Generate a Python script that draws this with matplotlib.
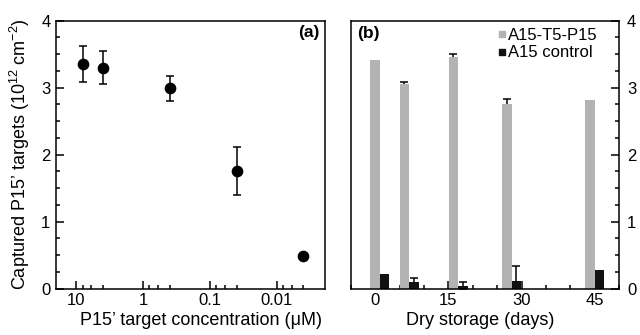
import matplotlib

matplotlib.use("Agg", force=True)
import matplotlib.pyplot as plt
from matplotlib.lines import Line2D
from matplotlib.ticker import FixedLocator, NullFormatter, MultipleLocator

plt.rcParams["font.family"] = ["Liberation Sans", "DejaVu Sans"]
plt.rcParams["mathtext.fontset"] = "custom"
plt.rcParams["mathtext.rm"] = "Liberation Sans"
plt.rcParams["mathtext.it"] = "Liberation Sans:italic"

# panel (a): captured targets vs target concentration
conc_um = [8, 4, 0.4, 0.04, 0.004]
captured = [3.35, 3.30, 2.99, 1.75, 0.48]
captured_err = [0.27, 0.24, 0.19, 0.36, 0.03]
conc_ticks = [10, 1, 0.1, 0.01]
conc_labels = ["10", "1", "0.1", "0.01"]

# panel (b): dry storage
storage_days = [0, 6, 16, 27, 44]
probe = [3.42, 3.05, 3.46, 2.76, 2.81]
probe_err = [0.0, 0.03, 0.04, 0.07, 0.0]
control = [0.21, 0.09, 0.04, 0.11, 0.28]
control_err = [0.0, 0.06, 0.06, 0.23, 0.0]
series_names = ["A15-T5-P15", "A15 control"]

GRAY = "#b3b3b3"
BLACK = "#111111"
TICK_FS = 12
LABEL_FS = 13
LW = 1.1


def upper_errorbars(ax, xs, ys, errs):
    # only bars that carry an error; lower half sits hidden behind the bar
    keep = [i for i, e in enumerate(errs) if e > 0]
    ax.errorbar([xs[i] for i in keep], [ys[i] for i in keep],
                yerr=[errs[i] for i in keep], fmt="none", ecolor="black",
                elinewidth=LW, capsize=3.2, capthick=LW, zorder=1)


fig = plt.figure(figsize=(6.4, 3.35), dpi=100)
ax1 = fig.add_axes([56 / 640, 0.1388, 269 / 640, 0.7994])
ax2 = fig.add_axes([350.7 / 640, 0.1388, 268.6 / 640, 0.7994])

for ax in (ax1, ax2):
    for sp in ax.spines.values():
        sp.set_linewidth(LW)
    ax.set_ylim(0, 4)
    ax.yaxis.set_major_locator(MultipleLocator(1))
    ax.yaxis.set_minor_locator(MultipleLocator(0.25))
    ax.tick_params(which="both", direction="in", width=LW, labelsize=TICK_FS)
    ax.tick_params(which="major", length=5.5)
    ax.tick_params(which="minor", length=2.8)
    ax.tick_params(axis="x", pad=3.3)

# (a)
ax1.errorbar(conc_um, captured, yerr=captured_err, fmt="o", color="black",
             markersize=7.4, capsize=3.2, elinewidth=LW, capthick=LW)
ax1.set_xscale("log")
ax1.set_xlim(20, 0.0019)
ax1.xaxis.set_major_locator(FixedLocator(conc_ticks))
ax1.set_xticklabels(conc_labels)
minor = [m * d for d in (1, 0.1, 0.01, 0.001) for m in (8, 6, 4)]
ax1.xaxis.set_minor_locator(FixedLocator(minor))
ax1.xaxis.set_minor_formatter(NullFormatter())
ax1.tick_params(top=False, right=False, which="both")
ax1.tick_params(axis="y", pad=4)
ax1.set_xlabel("P15\u2019 target concentration (\u03bcM)", fontsize=LABEL_FS)
ax1.xaxis.set_label_coords(0.54, -0.088)
ax1.set_ylabel("Captured P15\u2019 targets (10$^{12}$ cm$^{-2}$)", fontsize=LABEL_FS)
ax1.yaxis.set_label_coords(-0.091, 0.5)
ax1.text(0.981, 0.985, "(a)", transform=ax1.transAxes, ha="right", va="top",
         fontsize=12.5, fontweight="bold")

# (b)
black_x = [d + 1.95 for d in storage_days]
ax2.bar(storage_days, probe, width=1.9, color=GRAY, zorder=2)
upper_errorbars(ax2, storage_days, probe, probe_err)
ax2.bar(black_x, control, width=1.95, color=BLACK, zorder=2)
upper_errorbars(ax2, black_x, control, control_err)
ax2.set_xlim(-5, 50)
ax2.xaxis.set_major_locator(MultipleLocator(15))
ax2.xaxis.set_minor_locator(MultipleLocator(5))
ax2.yaxis.tick_right()
ax2.tick_params(left=False, top=False, which="both")
ax2.tick_params(axis="y", pad=5.5)
ax2.set_xlabel("Dry storage (days)", fontsize=LABEL_FS)
ax2.xaxis.set_label_coords(0.481, -0.088)
ax2.text(0.0235, 0.98, "(b)", transform=ax2.transAxes, ha="left", va="top",
         fontsize=12.5, fontweight="bold")

handles = [Line2D([], [], marker="s", linestyle="none", color=GRAY, markersize=4.5),
           Line2D([], [], marker="s", linestyle="none", color=BLACK, markersize=4.5)]
ax2.legend(handles, series_names, loc="upper right", frameon=False, fontsize=12,
           handlelength=0.4, handletextpad=0.2, labelspacing=0.15,
           borderpad=0, borderaxespad=0, bbox_to_anchor=(0.921, 0.973))

fig.savefig("out.png", dpi=100)
plt.close(fig)
